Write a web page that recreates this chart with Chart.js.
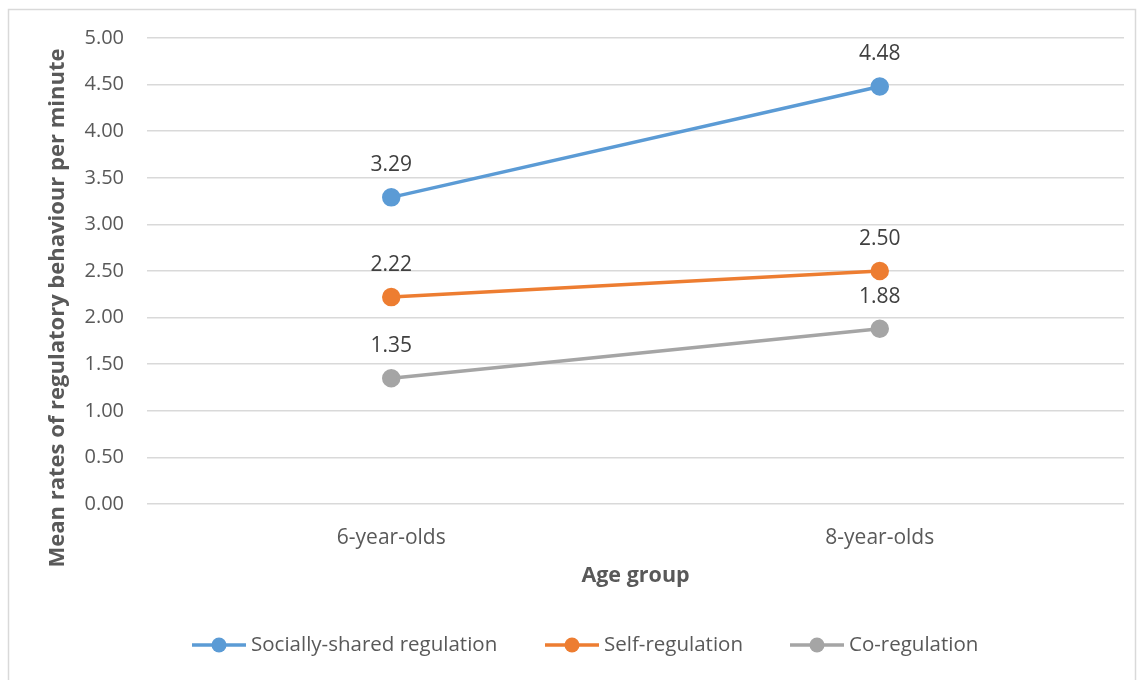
<!DOCTYPE html>
<html>
<head>
<meta charset="utf-8">
<script src="https://cdn.jsdelivr.net/npm/chart.js@4/dist/chart.umd.min.js"></script>
<style>
  html, body { margin: 0; padding: 0; background: #ffffff; }
  #wrap { width: 1145px; height: 680px; position: relative; }
</style>
</head>
<body>
<div id="wrap"><canvas id="chart" width="1145" height="680"></canvas></div>
<script>
// Age groups on the horizontal axis
const ageGroups = ['6-year-olds', '8-year-olds'];

// Mean rates of regulatory behaviour per minute, one list per regulation type
const sociallyShared = [3.29, 4.48];
const selfRegulation = [2.22, 2.50];
const coRegulation = [1.35, 1.88];

const seriesNames = ['Socially-shared regulation', 'Self-regulation', 'Co-regulation'];
const seriesColors = ['#5B9BD5', '#ED7D31', '#A5A5A5'];

const FONT = '"Open Sans", "Liberation Sans", sans-serif';
const TEXT = '#595959';

function makeSet(i, values) {
  return {
    label: seriesNames[i],
    data: values,
    borderColor: seriesColors[i],
    backgroundColor: seriesColors[i],
    pointBackgroundColor: seriesColors[i],
    pointBorderColor: seriesColors[i],
    borderWidth: 3.5,
    pointRadius: 7.5,
    pointHoverRadius: 7.5,
    tension: 0
  };
}

// White background and light frame around the whole chart
const frame = {
  id: 'frame',
  beforeDraw(chart) {
    const ctx = chart.ctx;
    ctx.save();
    ctx.fillStyle = '#ffffff';
    ctx.fillRect(0, 0, chart.width, chart.height);
    ctx.strokeStyle = '#D9D9D9';
    ctx.lineWidth = 1.5;
    ctx.strokeRect(8.5, 9.5, 1127, 690);
    ctx.restore();
  }
};

// Value printed above each point
const valueLabels = {
  id: 'valueLabels',
  afterDatasetsDraw(chart) {
    const ctx = chart.ctx;
    ctx.save();
    ctx.font = '21px ' + FONT;
    ctx.fillStyle = '#404040';
    ctx.textAlign = 'center';
    ctx.textBaseline = 'middle';
    chart.data.datasets.forEach((ds, di) => {
      chart.getDatasetMeta(di).data.forEach((pt, i) => {
        ctx.fillText(ds.data[i].toFixed(2), pt.x, pt.y - 32);
      });
    });
    ctx.restore();
  }
};

// Rotated y-axis title and line-with-marker legend
const extras = {
  id: 'extras',
  afterDraw(chart) {
    const ctx = chart.ctx;
    ctx.save();
    ctx.fillStyle = TEXT;
    ctx.font = 'bold 22px ' + FONT;
    ctx.textAlign = 'center';
    ctx.textBaseline = 'middle';
    ctx.translate(58, 308);
    ctx.rotate(-Math.PI / 2);
    ctx.fillText('Mean rates of regulatory behaviour per minute', 0, 0);
    ctx.restore();

    ctx.save();
    ctx.font = '20.5px ' + FONT;
    ctx.textBaseline = 'middle';
    ctx.textAlign = 'left';
    const y = 645;
    const starts = [192, 545, 790];
    chart.data.datasets.forEach((ds, i) => {
      const x0 = starts[i];
      ctx.strokeStyle = ds.borderColor;
      ctx.lineWidth = 3.5;
      ctx.beginPath();
      ctx.moveTo(x0, y);
      ctx.lineTo(x0 + 54, y);
      ctx.stroke();
      ctx.fillStyle = ds.borderColor;
      ctx.beginPath();
      ctx.arc(x0 + 27, y, 7.5, 0, Math.PI * 2);
      ctx.fill();
      ctx.fillStyle = TEXT;
      ctx.fillText(ds.label, x0 + 59, y);
    });
    ctx.restore();
  }
};

new Chart(document.getElementById('chart'), {
  type: 'line',
  data: {
    labels: ageGroups,
    datasets: [
      makeSet(0, sociallyShared),
      makeSet(1, selfRegulation),
      makeSet(2, coRegulation)
    ]
  },
  options: {
    responsive: false,
    animation: false,
    layout: { padding: { left: 0, right: 21, top: 38, bottom: 88 } },
    plugins: {
      legend: { display: false },
      tooltip: { enabled: false }
    },
    scales: {
      x: {
        offset: true,
        grid: { display: false, drawTicks: false },
        border: { display: false },
        ticks: { color: TEXT, font: { family: FONT, size: 21 }, padding: 21 },
        title: {
          display: true,
          text: 'Age group',
          color: TEXT,
          font: { family: FONT, size: 21.5, weight: 'bold' },
          padding: { top: 4, bottom: 3 }
        },
        afterFit(scale) { scale.height = 88; }
      },
      y: {
        min: 0,
        max: 5,
        grid: { color: '#D9D9D9', lineWidth: 1.5, drawTicks: false },
        border: { display: false },
        ticks: {
          stepSize: 0.5,
          color: TEXT,
          font: { family: FONT, size: 20 },
          padding: 23,
          callback: (v) => Number(v).toFixed(2)
        },
        afterFit(scale) { scale.width = 147; }
      }
    }
  },
  plugins: [frame, valueLabels, extras]
});
</script>
</body>
</html>
